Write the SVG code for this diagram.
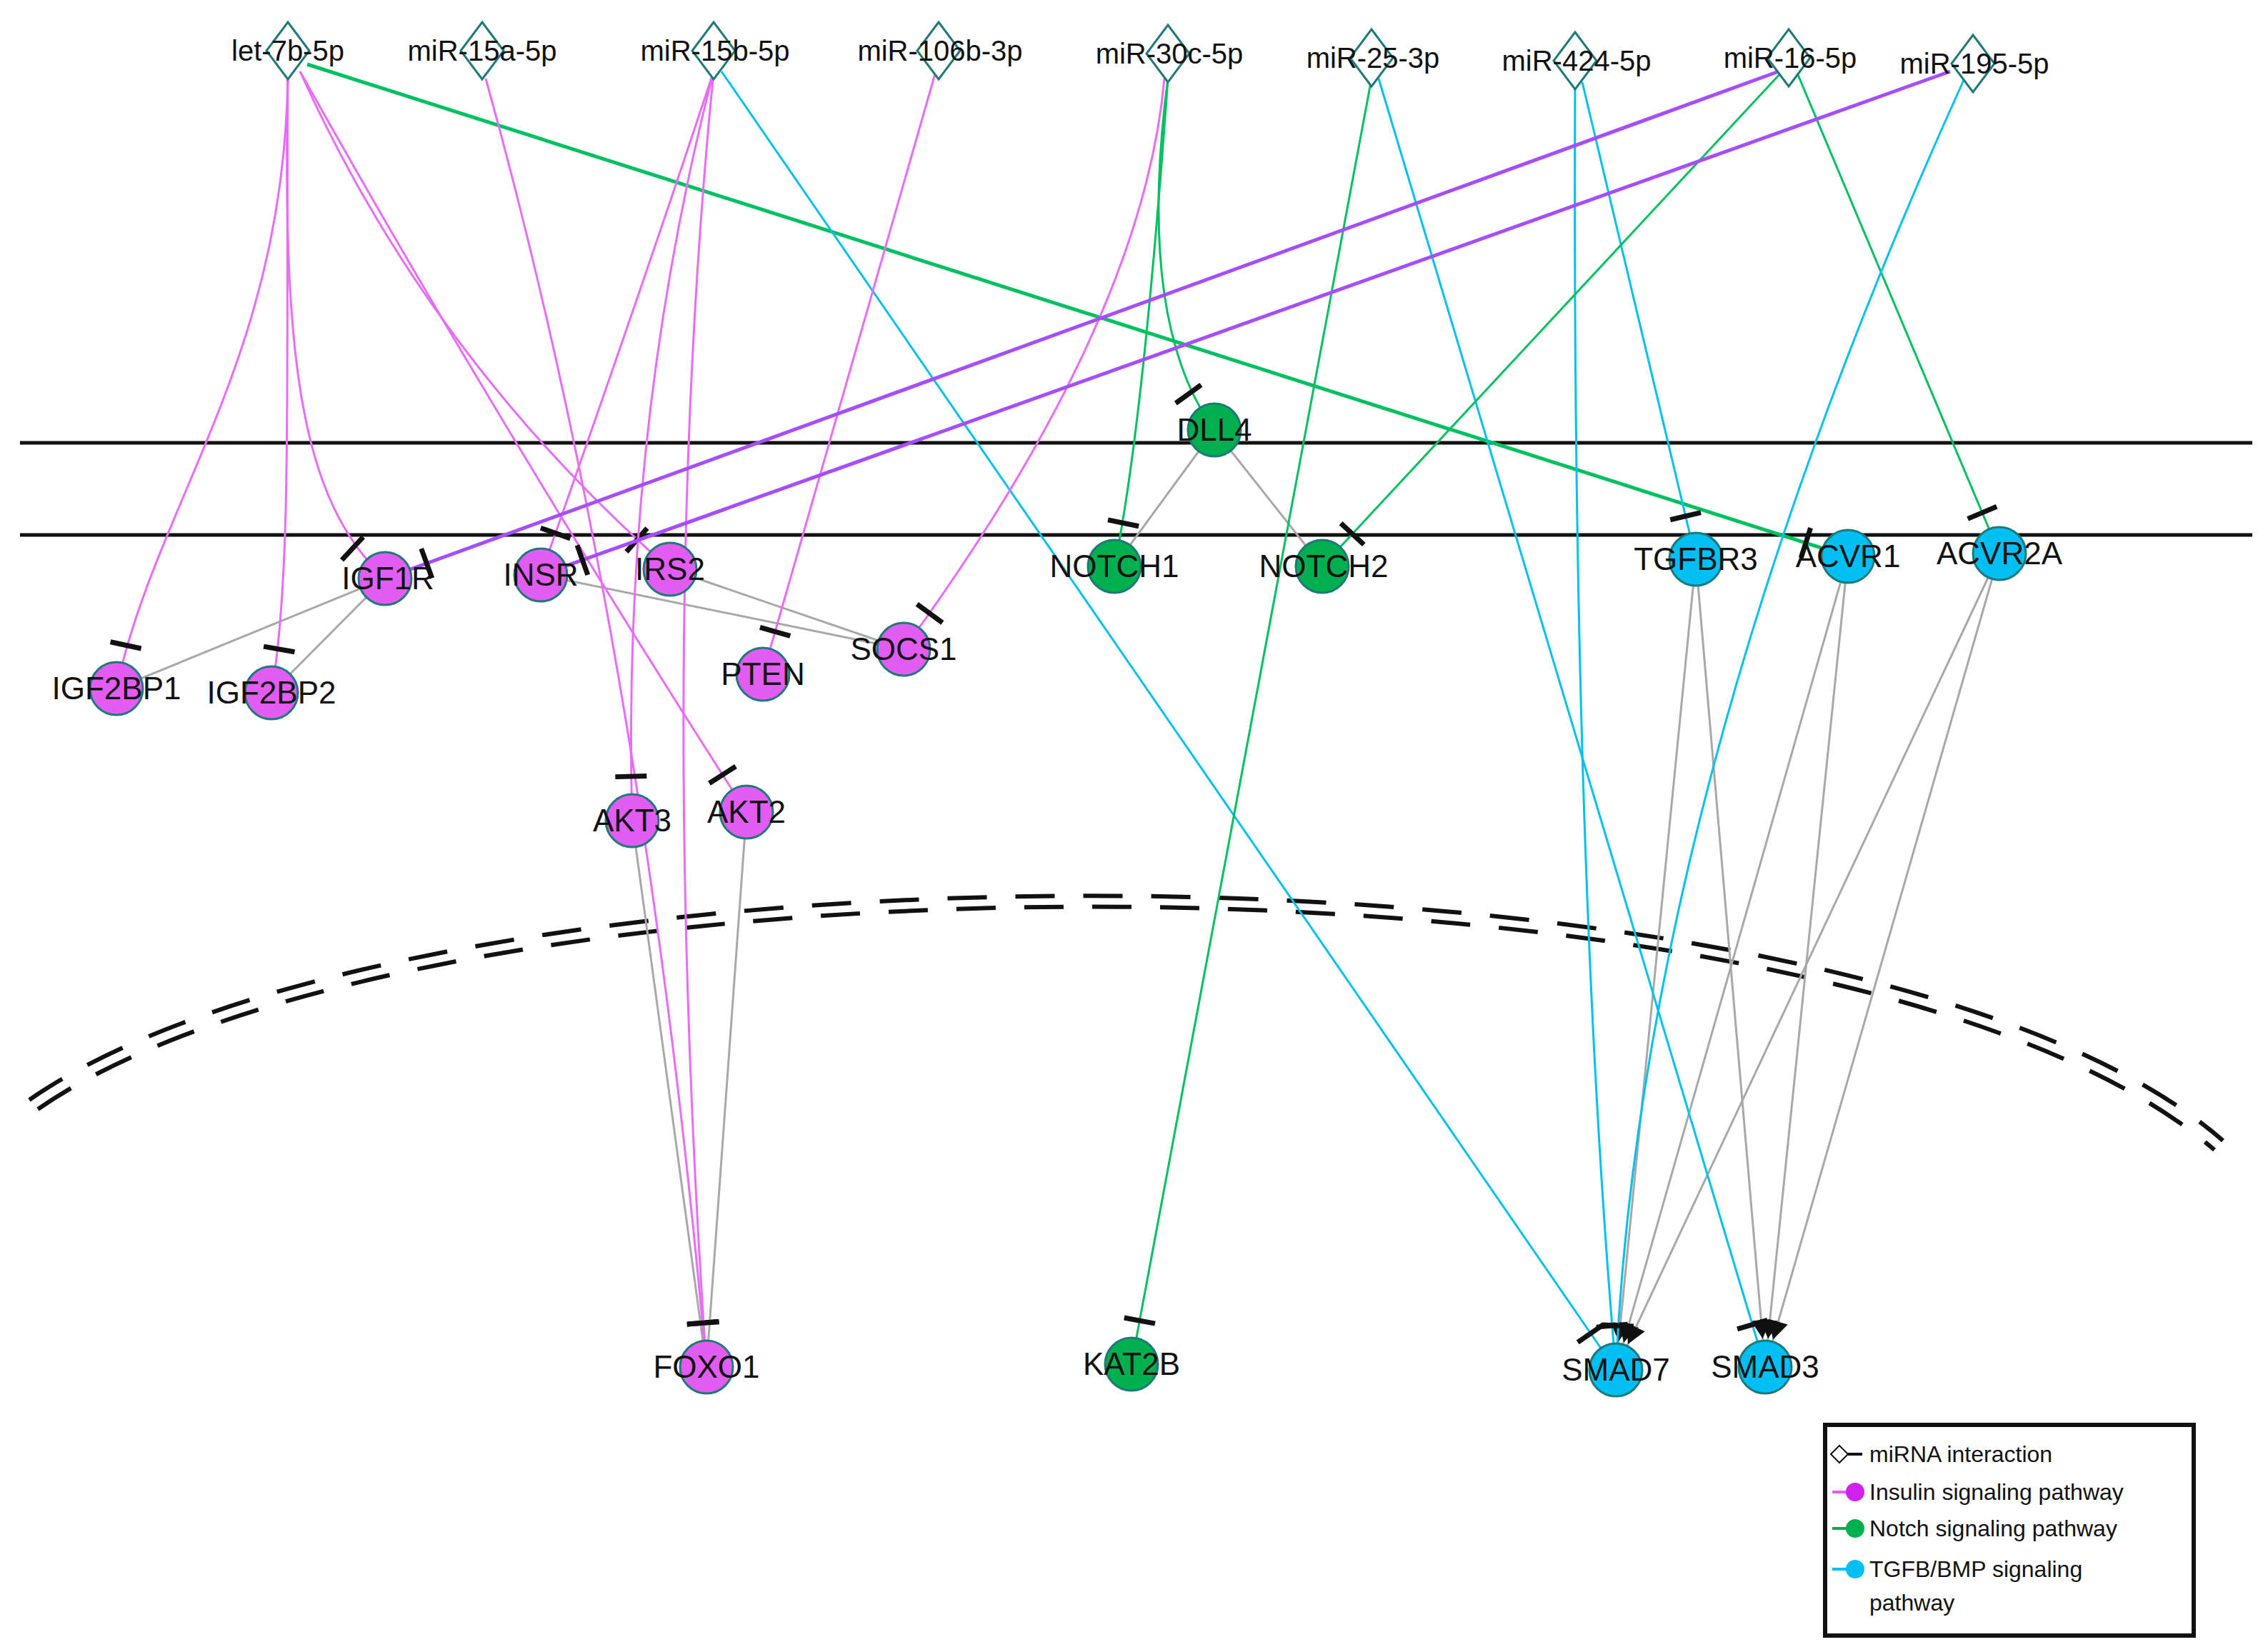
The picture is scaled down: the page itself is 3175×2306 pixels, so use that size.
<svg xmlns="http://www.w3.org/2000/svg" width="3175" height="2306" viewBox="0 0 3175 2306">
<style>
.e{fill:none;stroke-width:3}
.m{stroke:#e86cf5}.p{stroke:#a64dff;stroke-width:5}.g{stroke:#00c060}.gt{stroke:#00c060;stroke-width:5}.c{stroke:#00c0ee}.y{stroke:#a8a8a8}
.ti{marker-end:url(#tb)}.ar{marker-end:url(#ah)}
.dia{fill:#fff;stroke:#1e7a78;stroke-width:3}
.nm{fill:#e35cf2;stroke:#1e7a78;stroke-width:3}.ng{fill:#00b050;stroke:#1e7a78;stroke-width:3}.nc{fill:#00bff2;stroke:#1e7a78;stroke-width:3}
text{font-family:"Liberation Sans",Arial,sans-serif;fill:#111;text-anchor:middle}
.l{font-size:44px}.t{font-size:40px}.lg{font-size:32px;text-anchor:start}
</style>
<defs>
<marker id="tb" markerUnits="userSpaceOnUse" markerWidth="200" markerHeight="100" viewBox="-100 -50 200 100" refX="0" refY="0" orient="auto" overflow="visible"><line x1="-62" y1="-22" x2="-62" y2="22" stroke="#111" stroke-width="7"/></marker>
<marker id="ah" markerUnits="userSpaceOnUse" markerWidth="200" markerHeight="100" viewBox="-100 -50 200 100" refX="0" refY="0" orient="auto" overflow="visible"><path d="M-40,0 L-66,-14 L-66,14 Z" fill="#111"/></marker>
</defs>
<rect width="3175" height="2306" fill="#fff"/>
<g id="membrane" stroke="#111" stroke-width="5">
<line x1="28" y1="620" x2="3153" y2="620"/>
<line x1="28" y1="749" x2="3153" y2="749"/>
</g>
<g id="nucleus" fill="none" stroke="#111" stroke-width="6" stroke-dasharray="55 40">
<path d="M41,1540 C600,1150 2600,1150 3112,1597"/>
<path d="M53,1553 C610,1166 2590,1166 3100,1610"/>
</g>
<g id="connectors">
<path class="e y" d="M1700,602 L1560,793"/><path class="e y" d="M1700,602 L1851,793"/>
<path class="e y" d="M539,810 L163,964"/><path class="e y" d="M539,810 L380,970"/>
<path class="e y" d="M757,805 L1265,909"/><path class="e y" d="M938,797 L1265,909"/>
<path class="e y" d="M885,1149 L989,1914"/><path class="e y" d="M1045,1137 L989,1914"/>
<path class="e y ar" d="M2374,783 L2262,1918"/><path class="e y ar" d="M2374,783 L2471,1914"/>
<path class="e y ar" d="M2587,779 L2262,1918"/><path class="e y ar" d="M2587,779 L2471,1914"/>
<path class="e y ar" d="M2799,775 L2262,1918"/><path class="e y ar" d="M2799,775 L2471,1914"/>
<path class="e m ti" d="M403,100 C400,500 220,700 163,964"/>
<path class="e m ti" d="M403,100 C400,500 410,800 380,970"/>
<path class="e m ti" d="M403,100 C395,500 420,700 539,810"/>
<path class="e m ti" d="M420,100 Q600,500 938,797"/>
<path class="e m ti" d="M420,100 Q700,600 1045,1137"/>
<path class="e gt ti" d="M430,90 L2587,779"/>
<path class="e m ti" d="M680,110 Q900,900 989,1914"/>
<path class="e m ti" d="M999,100 Q900,400 757,805"/>
<path class="e m ti" d="M999,100 Q870,600 885,1149"/>
<path class="e m ti" d="M999,100 Q920,900 989,1914"/>
<path class="e c ti" d="M1010,100 L2262,1918"/>
<path class="e m ti" d="M1310,100 L1068,944"/>
<path class="e m ti" d="M1630,110 Q1600,450 1265,909"/>
<path class="e g ti" d="M1635,110 Q1590,450 1700,602"/>
<path class="e g ti" d="M1635,110 Q1600,600 1560,793"/>
<path class="e g ti" d="M1920,110 L1584,1910"/>
<path class="e c ti" d="M1930,110 L2471,1914"/>
<path class="e c ti" d="M2205,115 Q2200,1200 2262,1918"/>
<path class="e c ti" d="M2215,115 L2374,783"/>
<path class="e p ti" d="M2490,100 L539,810"/>
<path class="e g ti" d="M2495,100 L1851,793"/>
<path class="e g ti" d="M2515,100 L2799,775"/>
<path class="e p ti" d="M2730,100 L757,805"/>
<path class="e c ti" d="M2750,110 Q2300,1100 2262,1918"/>
</g>
<g id="let-7b-5p"><path class="dia" d="M403,31 L433,71 L403,111 L373,71Z"/><text class="t" x="403" y="85">let-7b-5p</text></g>
<g id="miR-15a-5p"><path class="dia" d="M675,31 L705,71 L675,111 L645,71Z"/><text class="t" x="675" y="85">miR-15a-5p</text></g>
<g id="miR-15b-5p"><path class="dia" d="M999,31 L1029,71 L999,111 L969,71Z"/><text class="t" x="1001" y="85">miR-15b-5p</text></g>
<g id="miR-106b-3p"><path class="dia" d="M1314,31 L1344,71 L1314,111 L1284,71Z"/><text class="t" x="1316" y="85">miR-106b-3p</text></g>
<g id="miR-30c-5p"><path class="dia" d="M1635,35 L1665,75 L1635,115 L1605,75Z"/><text class="t" x="1637" y="89">miR-30c-5p</text></g>
<g id="miR-25-3p"><path class="dia" d="M1920,41 L1950,81 L1920,121 L1890,81Z"/><text class="t" x="1922" y="95">miR-25-3p</text></g>
<g id="miR-424-5p"><path class="dia" d="M2205,45 L2235,85 L2205,125 L2175,85Z"/><text class="t" x="2207" y="99">miR-424-5p</text></g>
<g id="miR-16-5p"><path class="dia" d="M2504,41 L2534,81 L2504,121 L2474,81Z"/><text class="t" x="2506" y="95">miR-16-5p</text></g>
<g id="miR-195-5p"><path class="dia" d="M2762,49 L2792,89 L2762,129 L2732,89Z"/><text class="t" x="2764" y="103">miR-195-5p</text></g>
<g id="DLL4"><circle class="ng" cx="1700" cy="602" r="37"/><text class="l" x="1700" y="617">DLL4</text></g>
<g id="NOTCH1"><circle class="ng" cx="1560" cy="793" r="37"/><text class="l" x="1560" y="808">NOTCH1</text></g>
<g id="NOTCH2"><circle class="ng" cx="1851" cy="793" r="37"/><text class="l" x="1853" y="808">NOTCH2</text></g>
<g id="KAT2B"><circle class="ng" cx="1584" cy="1910" r="37"/><text class="l" x="1584" y="1925">KAT2B</text></g>
<g id="TGFBR3"><circle class="nc" cx="2374" cy="783" r="37"/><text class="l" x="2374" y="798">TGFBR3</text></g>
<g id="ACVR1"><circle class="nc" cx="2587" cy="779" r="37"/><text class="l" x="2587" y="794">ACVR1</text></g>
<g id="ACVR2A"><circle class="nc" cx="2799" cy="775" r="37"/><text class="l" x="2799" y="790">ACVR2A</text></g>
<g id="SMAD7"><circle class="nc" cx="2262" cy="1918" r="37"/><text class="l" x="2262" y="1933">SMAD7</text></g>
<g id="SMAD3"><circle class="nc" cx="2471" cy="1914" r="37"/><text class="l" x="2471" y="1929">SMAD3</text></g>
<g id="IGF1R"><circle class="nm" cx="539" cy="810" r="37"/><text class="l" x="543" y="825">IGF1R</text></g>
<g id="INSR"><circle class="nm" cx="757" cy="805" r="37"/><text class="l" x="757" y="820">INSR</text></g>
<g id="IRS2"><circle class="nm" cx="938" cy="797" r="37"/><text class="l" x="938" y="812">IRS2</text></g>
<g id="IGF2BP1"><circle class="nm" cx="163" cy="964" r="37"/><text class="l" x="163" y="979">IGF2BP1</text></g>
<g id="IGF2BP2"><circle class="nm" cx="380" cy="970" r="37"/><text class="l" x="380" y="985">IGF2BP2</text></g>
<g id="PTEN"><circle class="nm" cx="1068" cy="944" r="37"/><text class="l" x="1068" y="959">PTEN</text></g>
<g id="SOCS1"><circle class="nm" cx="1265" cy="909" r="37"/><text class="l" x="1265" y="924">SOCS1</text></g>
<g id="AKT3"><circle class="nm" cx="885" cy="1149" r="37"/><text class="l" x="885" y="1164">AKT3</text></g>
<g id="AKT2"><circle class="nm" cx="1045" cy="1137" r="37"/><text class="l" x="1045" y="1152">AKT2</text></g>
<g id="FOXO1"><circle class="nm" cx="989" cy="1914" r="37"/><text class="l" x="989" y="1929">FOXO1</text></g>
<g id="legend">
<rect x="2555" y="1995" width="516" height="295" fill="#fff" stroke="#111" stroke-width="6"/>
<path d="M2575,2024 L2587,2036 L2575,2048 L2563,2036Z" fill="#fff" stroke="#111" stroke-width="2"/><line x1="2587" y1="2036" x2="2607" y2="2036" stroke="#111" stroke-width="4"/>
<line x1="2565" y1="2089" x2="2605" y2="2089" stroke="#e35cf2" stroke-width="4"/><circle cx="2597" cy="2089" r="13" fill="#d020f0"/>
<line x1="2565" y1="2140" x2="2605" y2="2140" stroke="#00b050" stroke-width="4"/><circle cx="2597" cy="2140" r="13" fill="#00b050"/>
<line x1="2565" y1="2197" x2="2605" y2="2197" stroke="#00bff2" stroke-width="4"/><circle cx="2597" cy="2197" r="13" fill="#00bff2"/>
<text class="lg" x="2617" y="2047">miRNA interaction</text>
<text class="lg" x="2617" y="2100">Insulin signaling pathway</text>
<text class="lg" x="2617" y="2151">Notch signaling pathway</text>
<text class="lg" x="2617" y="2208">TGFB/BMP signaling</text>
<text class="lg" x="2617" y="2255">pathway</text>
</g>
</svg>
